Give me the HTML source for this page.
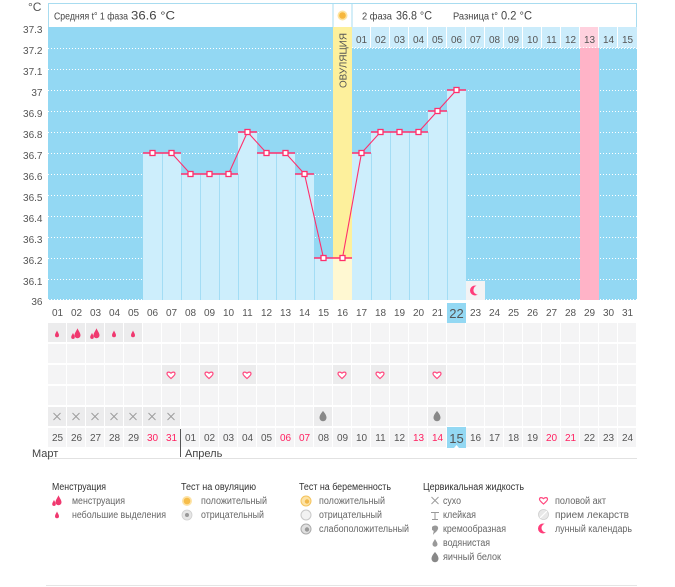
<!DOCTYPE html>
<html><head><meta charset="utf-8">
<style>
html,body{margin:0;padding:0;background:#fff;}
svg{display:block;font-family:"Liberation Sans","DejaVu Sans",sans-serif;}
</style></head>
<body>
<svg width="675" height="587" viewBox="0 0 675 587" xmlns="http://www.w3.org/2000/svg">
<defs>
  <pattern id="cells" x="48" y="323" width="19" height="21" patternUnits="userSpaceOnUse">
    <rect x="0" y="0" width="18" height="19" fill="#f4f4f5"/>
  </pattern>
  <path id="heart" d="M0,3.5 C-1,2.5 -4,0.5 -4,-1.2 C-4,-3 -2,-3.6 0,-1.8 C2,-3.6 4,-3 4,-1.2 C4,0.5 1,2.5 0,3.5 Z" fill="#fff" stroke="#ff4a80" stroke-width="1.2"/>
  <path id="drop" d="M0,-3.5 C0.8,-1.5 2,-0.3 2,1.2 A2,2 0 0 1 -2,1.2 C-2,-0.3 -0.8,-1.5 0,-3.5Z" fill="#f0386f"/>
  <g id="bigdrop">
    <path d="M0,-3.5 C0.8,-1.5 2,-0.3 2,1.2 A2,2 0 0 1 -2,1.2 C-2,-0.3 -0.8,-1.5 0,-3.5Z" fill="#f0386f" transform="translate(1.5,-0.5) scale(1.5)"/>
    <path d="M0,-3.5 C0.8,-1.5 2,-0.3 2,1.2 A2,2 0 0 1 -2,1.2 C-2,-0.3 -0.8,-1.5 0,-3.5Z" fill="#f0386f" transform="translate(-3,2) scale(0.9)"/>
  </g>
  <g id="cross"><path d="M-3.5,-3.5 L3.5,3.5 M3.5,-3.5 L-3.5,3.5" stroke="#9a9a9a" stroke-width="0.9"/></g>
  <path id="egg" d="M0,-5 C1.8,-3 3.5,-0.5 3.5,1.8 A3.5,3.5 0 0 1 -3.5,1.8 C-3.5,-0.5 -1.8,-3 0,-5Z" fill="#888"/>
  <path id="gdrop" d="M0,-4 C1,-2 2.5,-0.5 2.5,1.2 A2.5,2.5 0 0 1 -2.5,1.2 C-2.5,-0.5 -1,-2 0,-4Z" fill="#999"/>
</defs>

<!-- header -->
<text x="28" y="11" font-size="12" fill="#555">°C</text>
<rect x="48.5" y="3.5" width="284.5" height="24" fill="#fff" stroke="#a8dcf0"/>
<rect x="333" y="3.5" width="19" height="24" fill="#fff" stroke="#a8dcf0"/>
<rect x="352" y="3.5" width="284.5" height="24" fill="#fff" stroke="#a8dcf0"/>
<circle cx="342.5" cy="15.5" r="5" fill="#fde4a0"/>
<circle cx="342.5" cy="15.5" r="3.3" fill="#f6b73c"/>
<text x="54" y="19.5" font-size="10.5" fill="#444" textLength="74" lengthAdjust="spacingAndGlyphs">Средняя t° 1 фаза</text>
<text x="131" y="19.5" font-size="12" fill="#444" textLength="44" lengthAdjust="spacingAndGlyphs">36.6 °C</text>
<text x="362" y="19.5" font-size="10.5" fill="#444" textLength="30" lengthAdjust="spacingAndGlyphs">2 фаза</text>
<text x="396" y="19.5" font-size="12" fill="#444" textLength="36" lengthAdjust="spacingAndGlyphs">36.8 °C</text>
<text x="453" y="19.5" font-size="10.5" fill="#444" textLength="45" lengthAdjust="spacingAndGlyphs">Разница t°</text>
<text x="501" y="19.5" font-size="12" fill="#444" textLength="31" lengthAdjust="spacingAndGlyphs">0.2 °C</text>

<!-- chart background -->
<rect x="48" y="27" width="589" height="273" fill="#93d8f3"/>
<g stroke="#fff" stroke-width="1" stroke-dasharray="1 2">
  <line x1="48" y1="48.5" x2="637" y2="48.5"/>
  <line x1="48" y1="69.5" x2="637" y2="69.5"/>
  <line x1="48" y1="90.5" x2="637" y2="90.5"/>
  <line x1="48" y1="111.5" x2="637" y2="111.5"/>
  <line x1="48" y1="132.5" x2="637" y2="132.5"/>
  <line x1="48" y1="153.5" x2="637" y2="153.5"/>
  <line x1="48" y1="174.5" x2="637" y2="174.5"/>
  <line x1="48" y1="195.5" x2="637" y2="195.5"/>
  <line x1="48" y1="216.5" x2="637" y2="216.5"/>
  <line x1="48" y1="237.5" x2="637" y2="237.5"/>
  <line x1="48" y1="258.5" x2="637" y2="258.5"/>
  <line x1="48" y1="279.5" x2="637" y2="279.5"/>
  <line x1="48" y1="299.5" x2="637" y2="299.5"/>
</g>
<!-- y labels -->
<g font-size="10" fill="#555" text-anchor="end">
  <text x="42.5" y="33">37.3</text>
  <text x="42.5" y="54">37.2</text>
  <text x="42.5" y="75">37.1</text>
  <text x="42.5" y="96">37</text>
  <text x="42.5" y="117">36.9</text>
  <text x="42.5" y="138">36.8</text>
  <text x="42.5" y="159">36.7</text>
  <text x="42.5" y="180">36.6</text>
  <text x="42.5" y="201">36.5</text>
  <text x="42.5" y="222">36.4</text>
  <text x="42.5" y="243">36.3</text>
  <text x="42.5" y="264">36.2</text>
  <text x="42.5" y="285">36.1</text>
  <text x="42.5" y="305">36</text>
</g>

<!-- pink col (day 29) -->
<rect x="580" y="27" width="19" height="273" fill="#ffb3c7"/>
<!-- ovulation column -->
<rect x="333" y="27" width="19" height="231" fill="#fdf09c"/>
<rect x="333" y="258" width="19" height="42" fill="#fff8d2"/>
<text transform="translate(346.5,88) rotate(-90)" font-size="10" fill="#555" textLength="55" lengthAdjust="spacingAndGlyphs">ОВУЛЯЦИЯ</text>

<!-- bars -->
<g fill="#cdeefc">
  <rect x="143" y="153" width="19" height="147"/>
  <rect x="162" y="153" width="19" height="147"/>
  <rect x="181" y="174" width="19" height="126"/>
  <rect x="200" y="174" width="19" height="126"/>
  <rect x="219" y="174" width="19" height="126"/>
  <rect x="238" y="132" width="19" height="168"/>
  <rect x="257" y="153" width="19" height="147"/>
  <rect x="276" y="153" width="19" height="147"/>
  <rect x="295" y="174" width="19" height="126"/>
  <rect x="314" y="258" width="19" height="42"/>
  <rect x="352" y="153" width="19" height="147"/>
  <rect x="371" y="132" width="19" height="168"/>
  <rect x="390" y="132" width="19" height="168"/>
  <rect x="409" y="132" width="19" height="168"/>
  <rect x="428" y="111" width="19" height="189"/>
  <rect x="447" y="90" width="19" height="210"/>
</g>
<g stroke="#a3ddf5" stroke-width="1">
  <line x1="162.5" y1="153" x2="162.5" y2="300"/>
  <line x1="181.5" y1="174" x2="181.5" y2="300"/>
  <line x1="200.5" y1="174" x2="200.5" y2="300"/>
  <line x1="219.5" y1="174" x2="219.5" y2="300"/>
  <line x1="238.5" y1="174" x2="238.5" y2="300"/>
  <line x1="257.5" y1="153" x2="257.5" y2="300"/>
  <line x1="276.5" y1="153" x2="276.5" y2="300"/>
  <line x1="295.5" y1="174" x2="295.5" y2="300"/>
  <line x1="314.5" y1="258" x2="314.5" y2="300"/>
  <line x1="371.5" y1="153" x2="371.5" y2="300"/>
  <line x1="390.5" y1="132" x2="390.5" y2="300"/>
  <line x1="409.5" y1="132" x2="409.5" y2="300"/>
  <line x1="428.5" y1="132" x2="428.5" y2="300"/>
  <line x1="447.5" y1="111" x2="447.5" y2="300"/>
</g>

<!-- top right day cells -->
<rect x="352" y="27" width="285" height="21" fill="#cbecfb"/>
<rect x="580" y="27" width="19" height="21" fill="#ffd1de"/>
<g stroke="#fff" stroke-width="1">
  <line x1="370.5" y1="27" x2="370.5" y2="48"/><line x1="389.5" y1="27" x2="389.5" y2="48"/>
  <line x1="408.5" y1="27" x2="408.5" y2="48"/><line x1="427.5" y1="27" x2="427.5" y2="48"/>
  <line x1="446.5" y1="27" x2="446.5" y2="48"/><line x1="465.5" y1="27" x2="465.5" y2="48"/>
  <line x1="484.5" y1="27" x2="484.5" y2="48"/><line x1="503.5" y1="27" x2="503.5" y2="48"/>
  <line x1="522.5" y1="27" x2="522.5" y2="48"/><line x1="541.5" y1="27" x2="541.5" y2="48"/>
  <line x1="560.5" y1="27" x2="560.5" y2="48"/><line x1="579.5" y1="27" x2="579.5" y2="48"/>
  <line x1="598.5" y1="27" x2="598.5" y2="48"/><line x1="617.5" y1="27" x2="617.5" y2="48"/>
  <line x1="352" y1="47.5" x2="637" y2="47.5" stroke-dasharray="1 2"/>
</g>
<g font-size="10" fill="#555" text-anchor="middle">
  <text x="361.5" y="43">01</text><text x="380.5" y="43">02</text><text x="399.5" y="43">03</text>
  <text x="418.5" y="43">04</text><text x="437.5" y="43">05</text><text x="456.5" y="43">06</text>
  <text x="475.5" y="43">07</text><text x="494.5" y="43">08</text><text x="513.5" y="43">09</text>
  <text x="532.5" y="43">10</text><text x="551.5" y="43">11</text><text x="570.5" y="43">12</text>
  <text x="589.5" y="43">13</text><text x="608.5" y="43">14</text><text x="627.5" y="43">15</text>
</g>

<!-- bar top lines -->
<g stroke="#ff2f6c" stroke-width="1.5">
  <line x1="143" y1="153" x2="181" y2="153"/>
  <line x1="181" y1="174" x2="238" y2="174"/>
  <line x1="238" y1="132" x2="257" y2="132"/>
  <line x1="257" y1="153" x2="295" y2="153"/>
  <line x1="295" y1="174" x2="314" y2="174"/>
  <line x1="314" y1="258" x2="352" y2="258"/>
  <line x1="352" y1="153" x2="371" y2="153"/>
  <line x1="371" y1="132" x2="428" y2="132"/>
  <line x1="428" y1="111" x2="447" y2="111"/>
  <line x1="447" y1="90" x2="466" y2="90"/>
</g>
<polyline fill="none" stroke="#ff2f6c" stroke-width="1.1" points="152.5,153 171.5,153 190.5,174 209.5,174 228.5,174 247.5,132 266.5,153 285.5,153 304.5,174 323.5,258 342.5,258 361.5,153 380.5,132 399.5,132 418.5,132 437.5,111 456.5,90"/>
<g fill="#fff" stroke="#ff2f6c" stroke-width="1.3">
  <rect x="150" y="150.5" width="5" height="5"/><rect x="169" y="150.5" width="5" height="5"/>
  <rect x="188" y="171.5" width="5" height="5"/><rect x="207" y="171.5" width="5" height="5"/>
  <rect x="226" y="171.5" width="5" height="5"/><rect x="245" y="129.5" width="5" height="5"/>
  <rect x="264" y="150.5" width="5" height="5"/><rect x="283" y="150.5" width="5" height="5"/>
  <rect x="302" y="171.5" width="5" height="5"/><rect x="321" y="255.5" width="5" height="5"/>
  <rect x="340" y="255.5" width="5" height="5"/><rect x="359" y="150.5" width="5" height="5"/>
  <rect x="378" y="129.5" width="5" height="5"/><rect x="397" y="129.5" width="5" height="5"/>
  <rect x="416" y="129.5" width="5" height="5"/><rect x="435" y="108.5" width="5" height="5"/>
  <rect x="454" y="87.5" width="5" height="5"/>
</g>

<!-- moon cell -->
<rect x="466" y="281" width="19" height="19" fill="#f3f3f4"/>
<circle cx="475" cy="290.5" r="5" fill="#ff3d7a"/>
<circle cx="478" cy="290" r="4.6" fill="#f3f3f4"/>

<!-- x axis day labels -->
<rect x="447" y="303" width="19" height="20" fill="#93d8f3"/>
<g font-size="10" fill="#555" text-anchor="middle">
  <text x="57.5" y="316">01</text><text x="76.5" y="316">02</text><text x="95.5" y="316">03</text>
  <text x="114.5" y="316">04</text><text x="133.5" y="316">05</text><text x="152.5" y="316">06</text>
  <text x="171.5" y="316">07</text><text x="190.5" y="316">08</text><text x="209.5" y="316">09</text>
  <text x="228.5" y="316">10</text><text x="247.5" y="316">11</text><text x="266.5" y="316">12</text>
  <text x="285.5" y="316">13</text><text x="304.5" y="316">14</text><text x="323.5" y="316">15</text>
  <text x="342.5" y="316">16</text><text x="361.5" y="316">17</text><text x="380.5" y="316">18</text>
  <text x="399.5" y="316">19</text><text x="418.5" y="316">20</text><text x="437.5" y="316">21</text>
  <text x="456.5" y="318" font-size="13">22</text><text x="475.5" y="316">23</text>
  <text x="494.5" y="316">24</text><text x="513.5" y="316">25</text><text x="532.5" y="316">26</text>
  <text x="551.5" y="316">27</text><text x="570.5" y="316">28</text><text x="589.5" y="316">29</text>
  <text x="608.5" y="316">30</text><text x="627.5" y="316">31</text>
</g>

<!-- grid cells -->
<rect x="48" y="323" width="589" height="125" fill="url(#cells)"/>
<g fill="#ececed">
  <rect x="48" y="323" width="18" height="19"/><rect x="67" y="323" width="18" height="19"/>
  <rect x="86" y="323" width="18" height="19"/><rect x="105" y="323" width="18" height="19"/>
  <rect x="124" y="323" width="18" height="19"/>
  <rect x="162" y="365" width="18" height="19"/><rect x="200" y="365" width="18" height="19"/>
  <rect x="238" y="365" width="18" height="19"/><rect x="333" y="365" width="18" height="19"/>
  <rect x="371" y="365" width="18" height="19"/><rect x="428" y="365" width="18" height="19"/>
  <rect x="48" y="407" width="18" height="19"/><rect x="67" y="407" width="18" height="19"/>
  <rect x="86" y="407" width="18" height="19"/><rect x="105" y="407" width="18" height="19"/>
  <rect x="124" y="407" width="18" height="19"/><rect x="143" y="407" width="18" height="19"/>
  <rect x="162" y="407" width="18" height="19"/>
  <rect x="314" y="407" width="18" height="19"/><rect x="428" y="407" width="18" height="19"/>
</g>
<!-- row icons -->
<use href="#drop" x="57" y="334"/>
<use href="#bigdrop" x="76" y="334"/>
<use href="#bigdrop" x="95" y="334"/>
<use href="#drop" x="114" y="334"/>
<use href="#drop" x="133" y="334"/>
<use href="#heart" x="171" y="375"/>
<use href="#heart" x="209" y="375"/>
<use href="#heart" x="247" y="375"/>
<use href="#heart" x="342" y="375"/>
<use href="#heart" x="380" y="375"/>
<use href="#heart" x="437" y="375"/>
<use href="#cross" x="57" y="416.5"/><use href="#cross" x="76" y="416.5"/>
<use href="#cross" x="95" y="416.5"/><use href="#cross" x="114" y="416.5"/>
<use href="#cross" x="133" y="416.5"/><use href="#cross" x="152" y="416.5"/>
<use href="#cross" x="171" y="416.5"/>
<use href="#egg" x="323" y="416"/>
<use href="#egg" x="437" y="416"/>

<!-- date row -->
<rect x="447" y="427" width="19" height="21" fill="#93d8f3"/>
<path d="M454,448 L456.5,445 L459,448 Z" fill="#fff"/>
<g font-size="10" fill="#555" text-anchor="middle">
  <text x="57.5" y="441">25</text><text x="76.5" y="441">26</text><text x="95.5" y="441">27</text>
  <text x="114.5" y="441">28</text><text x="133.5" y="441">29</text>
  <text x="152.5" y="441" fill="#ff2060">30</text><text x="171.5" y="441" fill="#ff2060">31</text>
  <text x="190.5" y="441">01</text><text x="209.5" y="441">02</text><text x="228.5" y="441">03</text>
  <text x="247.5" y="441">04</text><text x="266.5" y="441">05</text>
  <text x="285.5" y="441" fill="#ff2060">06</text><text x="304.5" y="441" fill="#ff2060">07</text>
  <text x="323.5" y="441">08</text><text x="342.5" y="441">09</text><text x="361.5" y="441">10</text>
  <text x="380.5" y="441">11</text><text x="399.5" y="441">12</text>
  <text x="418.5" y="441" fill="#ff2060">13</text><text x="437.5" y="441" fill="#ff2060">14</text>
  <text x="456.5" y="443" font-size="13">15</text><text x="475.5" y="441">16</text>
  <text x="494.5" y="441">17</text><text x="513.5" y="441">18</text><text x="532.5" y="441">19</text>
  <text x="551.5" y="441" fill="#ff2060">20</text><text x="570.5" y="441" fill="#ff2060">21</text>
  <text x="589.5" y="441">22</text><text x="608.5" y="441">23</text><text x="627.5" y="441">24</text>
</g>
<line x1="180.5" y1="429" x2="180.5" y2="457" stroke="#555" stroke-width="1"/>
<line x1="47" y1="458.5" x2="637" y2="458.5" stroke="#e2e2e2" stroke-width="1"/>
<text x="32" y="457" font-size="11" fill="#444">Март</text>
<text x="185" y="457" font-size="11" fill="#444">Апрель</text>

<!-- legend -->
<g font-size="10" fill="#333">
  <text x="52" y="490" textLength="54" lengthAdjust="spacingAndGlyphs">Менструация</text>
  <text x="181" y="490" textLength="75" lengthAdjust="spacingAndGlyphs">Тест на овуляцию</text>
  <text x="299" y="490" textLength="92" lengthAdjust="spacingAndGlyphs">Тест на беременность</text>
  <text x="423" y="490" textLength="101" lengthAdjust="spacingAndGlyphs">Цервикальная жидкость</text>
</g>
<g font-size="10" fill="#666">
  <text x="72" y="504" textLength="53" lengthAdjust="spacingAndGlyphs">менструация</text>
  <text x="72" y="518" textLength="94" lengthAdjust="spacingAndGlyphs">небольшие выделения</text>
  <text x="201" y="504" textLength="66" lengthAdjust="spacingAndGlyphs">положительный</text>
  <text x="201" y="518" textLength="63" lengthAdjust="spacingAndGlyphs">отрицательный</text>
  <text x="319" y="504" textLength="66" lengthAdjust="spacingAndGlyphs">положительный</text>
  <text x="319" y="518" textLength="63" lengthAdjust="spacingAndGlyphs">отрицательный</text>
  <text x="319" y="532" textLength="90" lengthAdjust="spacingAndGlyphs">слабоположительный</text>
  <text x="443" y="504" textLength="18" lengthAdjust="spacingAndGlyphs">сухо</text>
  <text x="443" y="518" textLength="33" lengthAdjust="spacingAndGlyphs">клейкая</text>
  <text x="443" y="532" textLength="63" lengthAdjust="spacingAndGlyphs">кремообразная</text>
  <text x="443" y="546" textLength="47" lengthAdjust="spacingAndGlyphs">водянистая</text>
  <text x="443" y="560" textLength="58" lengthAdjust="spacingAndGlyphs">яичный белок</text>
  <text x="555" y="504" textLength="51" lengthAdjust="spacingAndGlyphs">половой акт</text>
  <text x="555" y="518" textLength="74" lengthAdjust="spacingAndGlyphs">прием лекарств</text>
  <text x="555" y="532" textLength="77" lengthAdjust="spacingAndGlyphs">лунный календарь</text>
</g>
<!-- legend icons -->
<use href="#bigdrop" x="57" y="501"/>
<use href="#drop" x="57" y="515"/>
<circle cx="187" cy="501" r="5" fill="#fde3a6"/><circle cx="187" cy="501" r="3.3" fill="#f6bd4a"/>
<circle cx="187" cy="515" r="5" fill="#e6e6e6" stroke="#cfcfcf" stroke-width="0.8"/><circle cx="187" cy="515" r="2" fill="#999"/>
<circle cx="306" cy="501" r="5" fill="#fde3a6" stroke="#f4c35c" stroke-width="1"/><circle cx="307" cy="501.5" r="2.2" fill="#f1b84a"/>
<circle cx="306" cy="515" r="5" fill="#f2f2f2" stroke="#c8c8c8" stroke-width="1"/>
<circle cx="306" cy="529" r="5" fill="#e0e0e0" stroke="#aaa" stroke-width="1"/><circle cx="307" cy="529.5" r="2.2" fill="#999"/>
<use href="#cross" x="435" y="500.5"/>
<path d="M431,512.5 H439 M435,512.5 V519 M432,519.5 H438" stroke="#999" stroke-width="1" fill="none"/>
<path d="M432,527 C435,524 439,526 438,529 C437,532 434,533 433,535 C433,532 435,531 432,530 Z" fill="#999"/>
<use href="#gdrop" x="435" y="543"/>
<use href="#egg" x="435" y="557"/>
<use href="#heart" x="543.5" y="500.5"/>
<circle cx="543.5" cy="514.5" r="5" fill="#e8e8e8" stroke="#cfcfcf" stroke-width="0.8"/>
<line x1="540" y1="518" x2="547" y2="511" stroke="#fff" stroke-width="1.2"/>
<circle cx="543" cy="528.5" r="5" fill="#ff3d7a"/>
<circle cx="546" cy="528" r="4.5" fill="#fff"/>
<line x1="46" y1="585.5" x2="637" y2="585.5" stroke="#e5e5e5" stroke-width="1"/>
</svg>
</body></html>
